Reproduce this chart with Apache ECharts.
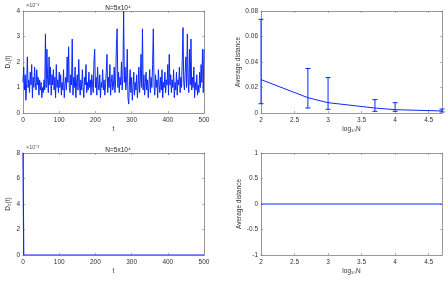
<!DOCTYPE html>
<html><head><meta charset="utf-8">
<script src="https://cdn.jsdelivr.net/npm/echarts@6/dist/echarts.min.js"></script>
<style>html,body{margin:0;padding:0;background:#fff}#c{width:448px;height:281px}</style>
</head><body><div id="c"></div>
<script>
// D1(t) in units of 1e-3, sampled every T_STEP
const T_STEP = 2;
const d1Values = [
1.2,1.8,0.9,1.5,0.5,1.1,2.2,1.0,1.3,0.8,
1.6,1.1,1.9,0.6,1.4,1.0,1.8,1.2,0.9,1.7,
1.1,1.4,0.7,1.3,0.9,1.2,0.6,1.0,0.8,1.3,
0.9,3.1,1.0,2.5,1.3,0.8,2.2,1.1,1.8,0.7,
1.5,1.1,1.7,0.9,1.4,0.6,1.9,1.0,1.3,0.8,
1.6,1.0,1.5,0.7,1.2,0.9,1.7,0.6,1.1,1.4,
0.9,2.2,1.2,2.6,1.0,0.8,1.5,1.1,2.9,0.7,
1.4,1.0,1.8,0.6,1.2,1.5,0.9,2.1,1.1,0.7,
1.3,0.9,1.7,1.0,0.6,1.4,1.1,1.9,0.8,1.2,
0.9,1.6,1.0,1.3,0.7,1.5,1.1,0.8,2.0,2.5,
1.0,1.4,0.7,1.8,1.1,0.9,1.5,0.6,1.2,1.0,
1.7,0.9,1.3,0.7,1.1,1.6,2.3,0.8,1.4,1.0,
1.9,0.7,1.2,1.5,0.9,1.1,1.8,0.8,1.3,2.6,
3.3,1.0,1.6,0.8,1.4,1.1,2.0,0.9,1.5,4.0,
1.2,1.8,0.9,1.3,2.5,0.6,0.35,1.1,1.7,0.8,
1.4,0.5,1.0,1.6,0.7,1.2,0.9,1.5,0.6,1.1,
1.8,0.8,1.3,2.3,1.0,3.3,0.9,1.5,0.7,1.2,
1.6,0.9,1.3,0.6,1.1,1.7,0.8,1.4,1.0,1.9,
3.3,1.1,0.7,1.5,1.0,1.3,0.6,1.7,1.1,0.8,
1.4,0.9,1.7,0.6,1.2,1.0,1.6,0.8,1.3,1.1,
1.9,0.7,2.3,1.1,1.5,0.8,1.3,1.0,1.7,0.6,
1.2,0.9,1.6,0.7,1.3,1.1,1.8,0.8,1.4,1.0,
2.1,3.35,1.2,0.9,1.6,2.2,1.0,3.1,1.3,0.8,
2.5,1.1,2.9,0.9,1.4,1.0,1.8,0.6,1.2,0.9,
1.5,0.7,1.1,0.8,1.6,1.0,1.9,1.2,2.5,0.8,
2.5];
// D2(t) in units of 1e-3
const d2Times = [0, 2, 500];
const d2Values = [8, 0, 0];

// Average distance vs log10 N
const logN = [2, 2.699, 3, 3.699, 4, 4.699];
const meanDist = [0.0262, 0.012, 0.0081, 0.0039, 0.0026, 0.0016];
const errLow = [0.0073, 0.0039, 0.0029, 0.0013, 0.0013, 0.0008];
const errHigh = [0.0735, 0.0349, 0.0278, 0.0105, 0.0081, 0.0031];
const meanDist2 = [0, 0, 0, 0, 0, 0];

const chart = echarts.init(document.getElementById('c'));
const FONT = 'Liberation Sans';
const FS = 6.5;
const AX = '#7f7f7f';
const BLUE = '#0a28ff';

const grids = [
  {left: 23, top: 11, width: 181, height: 102},
  {left: 261, top: 11, width: 181, height: 102},
  {left: 23, top: 153, width: 181, height: 102},
  {left: 261, top: 153, width: 181, height: 102}
];
const xAxes = [], yAxes = [];
function addAxes(gi, xmin, xmax, xint, xname, ymin, ymax, yint, yname, xfmt) {
  const tick = {show: true, inside: true, length: 2, lineStyle: {color: AX, width: 0.6}};
  const line = {show: true, onZero: false, lineStyle: {color: AX, width: 0.8}};
  xAxes.push({gridIndex: gi, type: 'value', min: xmin, max: xmax, interval: xint, position: 'bottom',
    axisLine: line, axisTick: tick, splitLine: {show: false},
    axisLabel: {fontFamily: FONT, fontSize: FS, color: '#333', margin: 4, showMaxLabel: xfmt ? false : true,
      formatter: xfmt || (v => v)},
    name: xname, nameLocation: 'middle', nameGap: 13,
    nameTextStyle: {fontFamily: FONT, fontSize: FS, color: '#333'}});
  xAxes.push({gridIndex: gi, type: 'value', min: xmin, max: xmax, interval: xint, position: 'top',
    axisLine: line, axisTick: tick, axisLabel: {show: false}, splitLine: {show: false}});
  yAxes.push({gridIndex: gi, type: 'value', min: ymin, max: ymax, interval: yint, position: 'left',
    axisLine: line, axisTick: tick, splitLine: {show: false},
    axisLabel: {fontFamily: FONT, fontSize: FS, color: '#333', margin: 3},
    name: yname, nameLocation: 'middle', nameGap: yname === 'Average distance' ? 18 : 11,
    nameTextStyle: {fontFamily: FONT, fontSize: FS, color: '#333'}});
  yAxes.push({gridIndex: gi, type: 'value', min: ymin, max: ymax, interval: yint, position: 'right',
    axisLine: line, axisTick: tick, axisLabel: {show: false}, splitLine: {show: false}});
}
addAxes(0, 0, 500, 100, 't', 0, 4, 1, 'D\u2081(t)');
addAxes(1, 2, 4.699, 0.5, 'log\u2081\u2080N', 0, 0.08, 0.02, 'Average distance', v => v);
addAxes(2, 0, 500, 100, 't', 0, 8, 2, 'D\u2082(t)');
addAxes(3, 2, 4.699, 0.5, 'log\u2081\u2080N', -1, 1, 0.5, 'Average distance', v => v);

function errRender(params, api) {
  const x = api.value(0), lo = api.value(1), hi = api.value(2);
  const a = api.coord([x, hi]), b = api.coord([x, lo]);
  const w = 2.5, st = {stroke: BLUE, lineWidth: 1};
  return {type: 'group', children: [
    {type: 'line', shape: {x1: a[0], y1: a[1], x2: b[0], y2: b[1]}, style: st},
    {type: 'line', shape: {x1: a[0]-w, y1: a[1], x2: a[0]+w, y2: a[1]}, style: st},
    {type: 'line', shape: {x1: b[0]-w, y1: b[1], x2: b[0]+w, y2: b[1]}, style: st}
  ]};
}

const titleStyle = {fontFamily: FONT, fontSize: FS, color: '#222', fontWeight: 'normal'};
chart.setOption({
  animation: false,
  grid: grids,
  xAxis: xAxes,
  yAxis: yAxes,
  title: [
    {text: 'N=5x10\u2074', left: 113, top: 0, textAlign: 'center', textStyle: titleStyle},
    {text: 'N=5x10\u2074', left: 113, top: 142, textAlign: 'center', textStyle: titleStyle}
  ],
  graphic: [
    {type: 'text', left: 26, top: 2, style: {text: '\u00d710\u207b\u00b3', fontFamily: FONT, fontSize: 5.5, fill: '#555'}},
    {type: 'text', left: 26, top: 144, style: {text: '\u00d710\u207b\u00b3', fontFamily: FONT, fontSize: 5.5, fill: '#555'}}
  ],
  series: [
    {type: 'line', xAxisIndex: 0, yAxisIndex: 0, showSymbol: false, symbol: 'none',
     lineStyle: {color: BLUE, width: 1}, data: d1Values.map((v, i) => [i * T_STEP, v])},
    {type: 'line', xAxisIndex: 2, yAxisIndex: 2, symbol: 'none', lineStyle: {color: BLUE, width: 1},
     data: logN.map((x, i) => [x, meanDist[i]])},
    {type: 'custom', xAxisIndex: 2, yAxisIndex: 2, renderItem: errRender, clip: false,
     encode: {x: 0, y: [1, 2]}, data: logN.map((x, i) => [x, errLow[i], errHigh[i]])},
    {type: 'line', xAxisIndex: 4, yAxisIndex: 4, symbol: 'none', lineStyle: {color: BLUE, width: 1.2},
     data: d2Times.map((t, i) => [t, d2Values[i]])},
    {type: 'line', xAxisIndex: 6, yAxisIndex: 6, symbol: 'none', lineStyle: {color: BLUE, width: 1.2},
     data: logN.map((x, i) => [x, meanDist2[i]])}
  ]
});
</script></body></html>
